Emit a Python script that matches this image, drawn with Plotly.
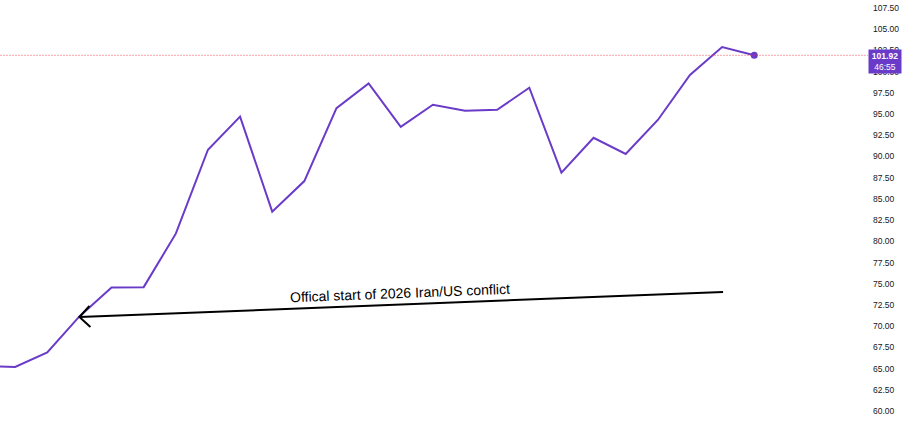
import plotly.graph_objects as go

# ---- data ----
bar_index = list(range(25))
price = [65.28, 65.20, 66.90, 71.15, 74.55, 74.60, 80.90, 90.80, 94.70, 83.50,
         87.10, 95.70, 98.60, 93.50, 96.10, 95.40, 95.50, 98.10, 88.10, 92.20,
         90.30, 94.30, 99.60, 102.90, 101.92]
last_price = price[-1]
countdown = "46:55"
tick_values = [60.0, 62.5, 65.0, 67.5, 70.0, 72.5, 75.0, 77.5, 80.0, 82.5,
               85.0, 87.5, 90.0, 92.5, 95.0, 97.5, 100.0, 102.5, 105.0, 107.5]
tick_labels = ["%.2f" % v for v in tick_values]
note_text = "Offical start of 2026 Iran/US conflict"
note_pos = (12.98, 73.91)
arrow_tip = (3, 71.08)
arrow_tail = (23.03, 74.03)

# ---- layout geometry ----
W, H = 902, 424
ML, MR, MT, MB = 0, 34, 0, 0
xr = [0.529, 27.54]
yr = [58.47, 108.44]
plot_w = W - ML - MR
plot_h = H - MT - MB
ppx = plot_w / (xr[1] - xr[0])
ppy = plot_h / (yr[1] - yr[0])

LINE = "#6a3bc8"
TXT = "#131722"
FONT = "Liberation Sans, Arial, sans-serif"

fig = go.Figure()
fig.add_trace(go.Scatter(x=bar_index, y=price, mode="lines",
                         line=dict(color=LINE, width=2), hoverinfo="skip"))
fig.add_trace(go.Scatter(x=[bar_index[-1]], y=[last_price], mode="markers",
                         marker=dict(color=LINE, size=7), hoverinfo="skip"))

# dotted last-price line
fig.add_shape(type="line", xref="paper", x0=0, x1=1, yref="y",
              y0=last_price, y1=last_price,
              line=dict(color="rgba(242,54,69,0.45)", width=1, dash="2px,1px"))

# arrow body
fig.add_shape(type="line", x0=arrow_tail[0], y0=arrow_tail[1],
              x1=arrow_tip[0], y1=arrow_tip[1],
              line=dict(color="#000000", width=2))
# open chevron head
a1 = (arrow_tip[0] + 10 / ppx, arrow_tip[1] + 11 / ppy)
a2 = (arrow_tip[0] + 11 / ppx, arrow_tip[1] - 10 / ppy)
fig.add_shape(type="path",
              path="M %f,%f L %f,%f L %f,%f" % (a1[0], a1[1], arrow_tip[0], arrow_tip[1], a2[0], a2[1]),
              line=dict(color="#000000", width=2))

fig.add_annotation(x=note_pos[0], y=note_pos[1], text=note_text, showarrow=False,
                   textangle=-2.23, font=dict(family=FONT, size=14, color="#000000"))

# price label
fig.add_annotation(xref="paper", x=1, xanchor="left", xshift=0,
                   y=last_price, yanchor="top", yshift=6,
                   text="<b>%.2f</b><br>%s" % (last_price, countdown),
                   showarrow=False, align="center", bgcolor=LINE,
                   width=30, height=21, borderpad=1,
                   font=dict(family=FONT, size=8.5, color="#ffffff"))

fig.update_layout(
    width=W, height=H,
    margin=dict(l=ML, r=MR, t=MT, b=MB, autoexpand=False),
    paper_bgcolor="#ffffff", plot_bgcolor="#ffffff",
    showlegend=False,
    xaxis=dict(range=xr, visible=False),
    yaxis=dict(range=yr, side="right", showgrid=False, zeroline=False,
               tickvals=tick_values, ticktext=tick_labels, ticks="",
               ticklabelstandoff=4, automargin=False,
               tickfont=dict(family=FONT, size=8.5, color=TXT)),
)

fig.write_html("out.html",
               config={"displayModeBar": False},
               post_script="document.body.style.margin='0';document.body.style.overflow='hidden';")
